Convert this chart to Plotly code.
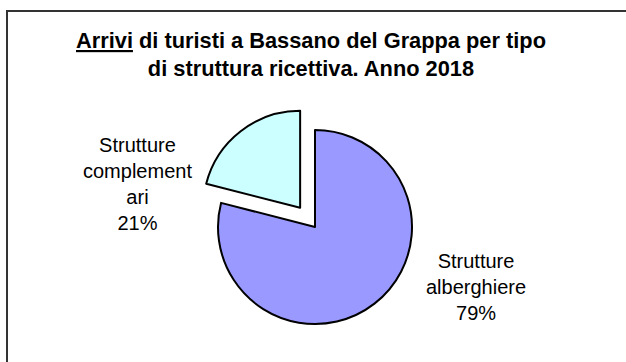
import plotly.graph_objects as go

# Data
categories = ["Strutture alberghiere", "Strutture complementari"]
display_labels = ["Strutture<br>alberghiere", "Strutture<br>complement<br>ari"]
values = [79, 21]
colors = ["#9999FF", "#CCFFFF"]
title_lines = ["<u>Arrivi</u> di turisti a Bassano del Grappa per tipo",
               "di struttura ricettiva. Anno 2018"]

W, H = 626, 362
total = sum(values)
pcts = [round(v / total * 100) for v in values]

# pie geometry (pixels)
cx, cy, r, pull = 315, 227, 97, 0.25
box = r * (2 + 2 * pull)

fig = go.Figure()
fig.add_trace(go.Pie(
    labels=categories,
    values=values,
    sort=False,
    direction="clockwise",
    rotation=0,
    pull=[0, pull],
    textinfo="none",
    hoverinfo="label+percent",
    marker=dict(colors=colors, line=dict(color="#000000", width=2)),
    domain=dict(x=[(cx - box / 2) / W, (cx + box / 2) / W],
                y=[(H - cy - box / 2) / H, (H - cy + box / 2) / H]),
    showlegend=False,
))

label_pos = [(476, 287), (137, 184)]
for (lx, ly), lab, p in zip(label_pos, display_labels, pcts):
    fig.add_annotation(
        x=lx / W, y=1 - ly / H, xref="paper", yref="paper",
        text=f"{lab}<br>{p}%", showarrow=False,
        xanchor="center", yanchor="middle", align="center",
        font=dict(family="Arial, Liberation Sans", size=20, color="#000000"),
    )

fig.add_annotation(
    x=311 / W, y=1 - 26 / H, xref="paper", yref="paper",
    text="<b>" + "<br>".join(title_lines) + "</b>", showarrow=False,
    xanchor="center", yanchor="top", align="center",
    font=dict(family="Arial, Liberation Sans", size=21.8, color="#000000"),
)

# chart-area border (left and top visible, rest cropped)
fig.add_shape(type="rect", xref="paper", yref="paper",
              x0=7 / W, x1=1 + 20 / W, y0=-20 / H, y1=1 - 11 / H,
              line=dict(color="#333333", width=2), fillcolor="rgba(0,0,0,0)")

fig.update_layout(
    width=W, height=H,
    margin=dict(l=0, r=0, t=0, b=0),
    paper_bgcolor="#FFFFFF", plot_bgcolor="#FFFFFF",
)
fig.write_html(
    "out.html",
    config={"displayModeBar": False},
    post_script="document.body.style.margin='0';document.body.style.overflow='hidden';",
)
